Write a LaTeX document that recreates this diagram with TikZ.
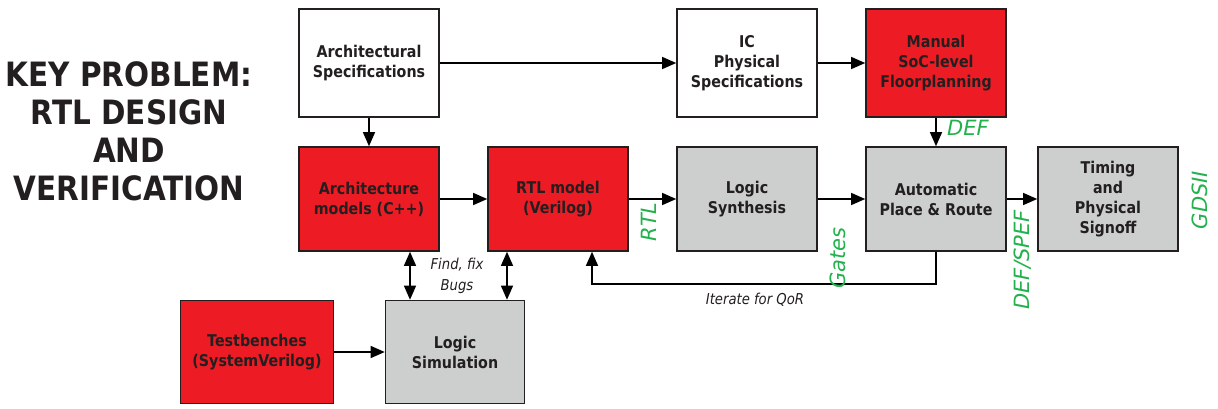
\documentclass[tikz,border=0pt]{standalone}
\usepackage{fontspec}
\setmainfont{DejaVu Sans}
\newfontfamily\boxfont{DejaVu Sans}[FakeStretch=0.88]
\usetikzlibrary{arrows.meta,calc}
\definecolor{bred}{RGB}{237,28,36}
\definecolor{bgray}{RGB}{205,207,207}
\definecolor{dtext}{RGB}{35,31,32}
\definecolor{lgreen}{RGB}{34,177,76}
\begin{document}
\begin{tikzpicture}[x=1pt,y=-1pt,
  box/.style={draw=dtext,line width=1.6pt,minimum width=140pt,minimum height=106pt,align=center,inner sep=0pt,
    text=dtext,font=\boxfont\bfseries\fontsize{16.2}{20}\selectfont},
  redbox/.style={box,fill=bred},
  graybox/.style={box,fill=bgray},
  whitebox/.style={box,fill=white},
  arr/.style={draw=black,line width=1.2pt,-{Triangle[length=14pt,width=12pt]}},
  darr/.style={draw=black,line width=1.2pt,{Triangle[length=14pt,width=12pt]}-{Triangle[length=14pt,width=12pt]}},
  glabel/.style={text=lgreen,font=\fontsize{21}{24}\selectfont\itshape,inner sep=0pt},
  note/.style={text=dtext,font=\boxfont\fontsize{15}{21}\selectfont\itshape,align=center,inner sep=0pt}]
\useasboundingbox (0,0) rectangle (1218,408);
\node[text=dtext,font=\boxfont\bfseries\fontsize{33.5}{38}\selectfont,align=center] (title) at (129,131)
  {KEY PROBLEM:\\RTL DESIGN\\AND\\VERIFICATION};
\node[whitebox,minimum height=108pt] (as) at (369,63) {Architectural\\Specifications};
\node[whitebox,minimum height=108pt] (ic) at (747,63) {IC\\Physical\\Specifications};
\node[redbox,minimum height=108pt] (fp) at (936,63) {Manual\\SoC-level\\Floorplanning};
\node[redbox,minimum height=104pt] (am) at (369,199) {Architecture\\models (C++)};
\node[redbox,minimum height=104pt] (rtl) at (558,199) {RTL model\\(Verilog)};
\node[graybox,minimum height=104pt] (ls) at (747,199) {Logic\\Synthesis};
\node[graybox,minimum height=104pt] (apr) at (936,199) {Automatic\\Place \& Route};
\node[graybox,minimum height=104pt] (tim) at (1108,199) {Timing\\and\\Physical\\Signoff};
\node[redbox,minimum width=153pt,minimum height=103pt] (tb) at (257,352) {Testbenches\\(SystemVerilog)};
\node[graybox,minimum width=139pt,minimum height=103pt] (sim) at (455,352) {Logic\\Simulation};
% connectors
\draw[arr] (as) -- (ic);
\draw[arr] (ic) -- (fp);
\draw[arr] (as) -- (am);
\draw[arr] (fp) -- (apr);
\draw[arr] (am) -- (rtl);
\draw[arr] (rtl) -- (ls);
\draw[arr] (ls) -- (apr);
\draw[arr] (apr) -- (tim);
\draw[arr] (tb) -- (sim);
\coordinate (b1) at (410,0);
\coordinate (b2) at (507,0);
\draw[darr] (am.south -| b1) -- (sim.north -| b1);
\draw[darr] (rtl.south -| b2) -- (sim.north -| b2);
\coordinate (fb) at (592,284);
\draw[arr] (apr.south) |- (fb) -- (rtl.south -| fb);
% labels
\node[glabel,anchor=west] (ldef) at (947,128) {DEF};
\node[glabel,rotate=90] (lrtl) at (649,222) {RTL};
\node[glabel,rotate=90] (lgates) at (838,258) {Gates};
\node[glabel,rotate=90] (lspef) at (1023,260) {DEF/SPEF};
\node[glabel,rotate=90] (lgds) at (1200,200) {GDSII};
\node[note] (bugs) at (457,276) {Find, fix\\Bugs};
\node[note] (qor) at (755,300) {Iterate for QoR};
\end{tikzpicture}
\end{document}
